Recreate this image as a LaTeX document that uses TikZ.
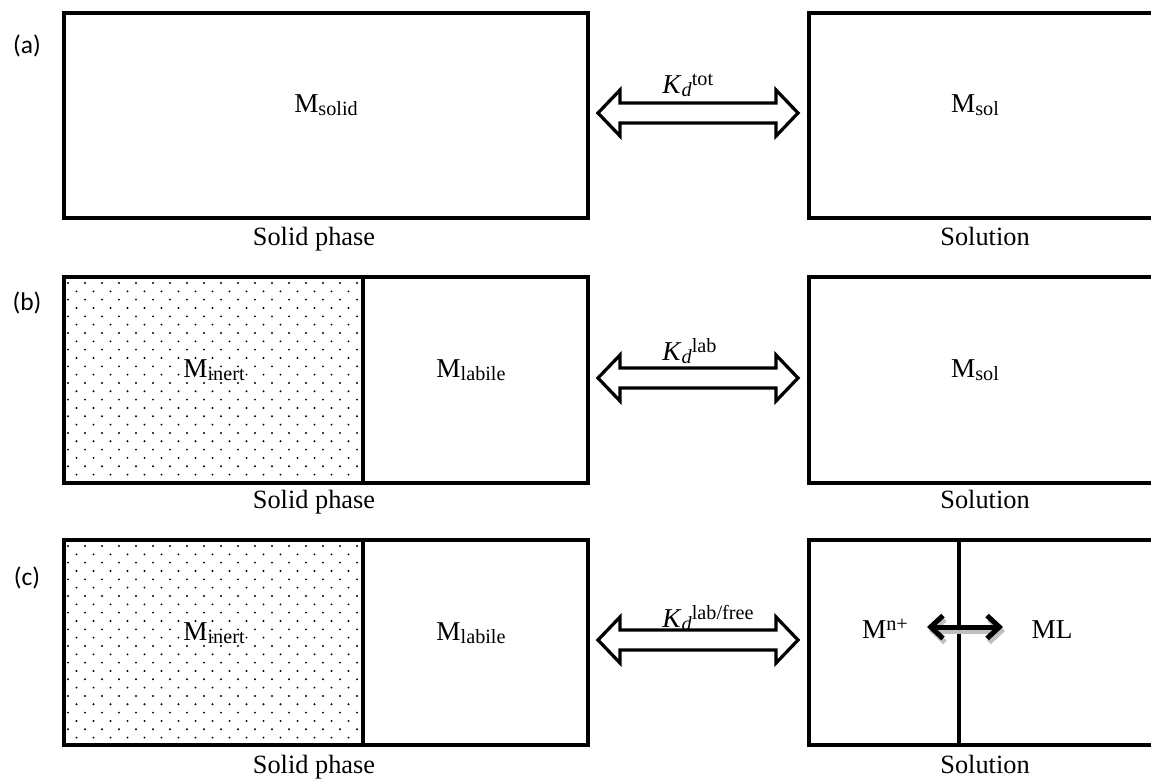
\documentclass[tikz,border=0pt]{standalone}
\usepackage{fontspec}
\setmainfont{Liberation Serif}
\newfontfamily\casefont{Carlito}
\usetikzlibrary{arrows.meta}

\newcommand\lowidx[1]{\raisebox{-2pt}{\fontsize{11.5}{12}\selectfont #1}}
\newcommand\highidx[1]{\raisebox{4pt}{\fontsize{11.5}{12}\selectfont #1}}

\tikzset{
  phasebox/.style={line width=0.08cm},
  hollowarrow/.style={line width=0.065cm, line join=miter, fill=white},
  phasetext/.style={font=\fontsize{15}{18}\selectfont, anchor=base, inner sep=0pt},
  speciestext/.style={font=\fontsize{15.5}{18}\selectfont, anchor=base, inner sep=0pt},
  kdtext/.style={font=\fontsize{15.5}{18}\selectfont, anchor=base west, inner sep=0pt},
  casetext/.style={font=\casefont\fontsize{14.5}{17}\selectfont, inner sep=0pt},
  barbs/.style={line width=0.1cm, {Straight Barb[length=7pt,width=13pt]}-{Straight Barb[length=7pt,width=13pt]}},
}

\begin{document}
\begin{tikzpicture}[x=0.02cm, y=-0.02cm]
\clip (0,0) rectangle (1151,778);

% dotted inert part of the solid phase
\foreach \t in {277,540} {
  \begin{scope}
  \clip (66,\t+2) rectangle (361,\t+204);
  \foreach \r in {0,...,25} {
    \pgfmathsetmacro\yy{\t+6+\r*8.33}
    \pgfmathsetmacro\xo{mod(\r,2)==0 ? 68 : 59.5}
    \foreach \c in {0,...,18}
      \fill (\xo+\c*17,\yy) circle (0.6pt);
  }
  \end{scope}
}

% boxes
\draw[phasebox] (64,13) rectangle (588,218);
\draw[phasebox] (809,13) rectangle (1170,218);
\draw[phasebox] (64,277) rectangle (588,483);
\draw[phasebox] (363,277) -- (363,483);
\draw[phasebox] (809,277) rectangle (1170,483);
\draw[phasebox] (64,540) rectangle (588,745);
\draw[phasebox] (363,540) -- (363,745);
\draw[phasebox] (809,540) rectangle (1170,745);
\draw[phasebox] (959,540) -- (959,745);

% hollow exchange arrows
\foreach \y in {113,378,640}
  \draw[hollowarrow] (598,\y) -- (620,\y-23) -- (620,\y-10) -- (776,\y-10)
    -- (776,\y-23) -- (798,\y) -- (776,\y+23) -- (776,\y+10)
    -- (620,\y+10) -- (620,\y+23) -- cycle;

% case labels
\node[casetext] (casea) at (27,46) {(a)};
\node[casetext] (caseb) at (27,303) {(b)};
\node[casetext] (casec) at (27,578) {(c)};

% (a)
\node[speciestext] (solida) at (326,112) {M\lowidx{solid}};
\node[speciestext] (sola) at (975,112) {M\lowidx{sol}};
\node[kdtext] (kda) at (662,93) {\textit{K}\lowidx{\textit{d}}\highidx{tot}};
\node[phasetext] (spa) at (314,245) {Solid phase};
\node[phasetext] (sna) at (985,245) {Solution};

% (b)
\node[speciestext] (inertb) at (214,377) {M\lowidx{inert}};
\node[speciestext] (labileb) at (471,377) {M\lowidx{labile}};
\node[speciestext] (solb) at (975,377) {M\lowidx{sol}};
\node[kdtext] (kdb) at (662,360) {\textit{K}\lowidx{\textit{d}}\highidx{lab}};
\node[phasetext] (spb) at (314,508) {Solid phase};
\node[phasetext] (snb) at (985,508) {Solution};

% (c)
\node[speciestext] (inertc) at (214,640) {M\lowidx{inert}};
\node[speciestext] (labilec) at (471,640) {M\lowidx{labile}};
\node[kdtext] (kdc) at (662,627) {\textit{K}\lowidx{\textit{d}}\highidx{lab/free}};
\node[speciestext] (freec) at (885,638) {M\highidx{n+}};
\node[speciestext] (mlc) at (1052,638) {ML};
\node[phasetext] (spc) at (314,773) {Solid phase};
\node[phasetext] (snc) at (985,773) {Solution};

% complexation arrow with its shadow
\coordinate (fe) at (927,627);
\coordinate (me) at (1003,627);
\draw[barbs, gray!50] ([shift={(2,4)}]fe) -- ([shift={(2,4)}]me);
\draw[barbs] (fe) -- (me);
\end{tikzpicture}
\end{document}
